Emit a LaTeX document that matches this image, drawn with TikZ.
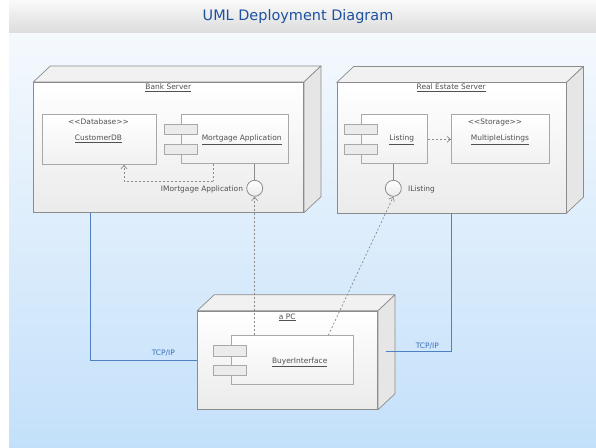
\documentclass[tikz,border=0pt]{standalone}
\usepackage{fontspec}
\setmainfont{DejaVu Sans}
\usetikzlibrary{arrows.meta,calc}
\definecolor{bgtop}{HTML}{F5F9FD}
\definecolor{bgbot}{HTML}{C3E0FA}
\definecolor{bartop}{HTML}{FAFAFA}
\definecolor{barbot}{HTML}{DCDCDC}
\definecolor{ttl}{HTML}{1E50A0}
\definecolor{edge}{HTML}{8C8C8C}
\definecolor{compedge}{HTML}{A8A8A8}
\definecolor{txt}{HTML}{505050}
\definecolor{net}{HTML}{4F80C4}
\definecolor{nettxt}{HTML}{3A6DB8}
\definecolor{depc}{HTML}{8A8A8A}
\definecolor{facetop}{HTML}{F1F1F1}
\definecolor{faceside}{HTML}{E6E6E6}
\definecolor{frontbot}{HTML}{EBEBEB}
\tikzset{
 nodebox/.style={draw=edge, line width=0.7bp, top color=white, bottom color=frontbot, inner sep=0, anchor=north west},
 face/.style={draw=edge, line width=0.7bp, fill=#1, line join=round},
 compbox/.style={draw=compedge, line width=1.1bp, top color=white, bottom color=frontbot!70, inner sep=0, anchor=north west},
 portbox/.style={draw=compedge, line width=1bp, fill=frontbot, inner sep=0, anchor=north west, minimum width=33bp, minimum height=9.7bp},
 iface/.style={circle, draw=edge, line width=0.8bp, top color=white, bottom color=frontbot, minimum size=16bp, inner sep=0},
 lbl/.style={text=txt, font=\fontsize{7.5}{9}\selectfont, inner sep=0, anchor=base},
 netlbl/.style={text=nettxt, font=\fontsize{7.5}{9}\selectfont, inner sep=0, anchor=base},
 netline/.style={draw=net, line width=0.8bp},
 depline/.style={draw=depc, line width=0.7bp, dash pattern=on 2bp off 2bp, -{Straight Barb[length=3.5bp,width=6bp]}},
 depplain/.style={draw=depc, line width=0.7bp, dash pattern=on 2bp off 2bp},
 stem/.style={draw=edge, line width=0.8bp},
}
\newcommand\cubefaces[1]{%
 \path[face=facetop] (#1.north west) -- ([shift={(17,-16)}]#1.north west) -- ([shift={(17,-16)}]#1.north east) -- (#1.north east) -- cycle;
 \path[face=faceside] (#1.north east) -- ([shift={(17,-16)}]#1.north east) -- ([shift={(17,-16)}]#1.south east) -- (#1.south east) -- cycle;}
\begin{document}
\begin{tikzpicture}[x=1bp,y=-1bp]
\useasboundingbox (0,0) rectangle (596,448);
\fill[white] (0,0) rectangle (596,448);
\shade[top color=bgtop, bottom color=bgbot] (9,33) rectangle (596,448);
\shade[top color=bartop, bottom color=barbot] (9,0) rectangle (596,33);
\node[text=ttl, font=\fontsize{14.5}{17}\selectfont, inner sep=0] (title) at (298,17) {UML Deployment Diagram};

% 3D nodes
\node[nodebox, minimum width=270bp, minimum height=130bp] (bs) at (33.3,82) {};
\cubefaces{bs}
\node[nodebox, minimum width=229bp, minimum height=130bp] (res) at (336.7,82.5) {};
\cubefaces{res}
\node[nodebox, minimum width=180bp, minimum height=98.3bp] (pc) at (197.3,310.7) {};
\cubefaces{pc}

\node[lbl] (bst) at (168.3,89.5) {\underline{Bank Server}};
\node[lbl] (rest) at (451.2,89.5) {\underline{Real Estate Server}};
\node[lbl] (pct) at (287.3,319) {\underline{a PC}};

% Bank server content
\node[compbox, minimum width=114bp, minimum height=49.4bp] (db) at (42,114.3) {};
\node[lbl] (dbs) at (98.5,124.5) {<{}<Database>{}>};
\node[lbl] (dbn) at (98.5,141) {\underline{CustomerDB}};
\node[compbox, minimum width=107bp, minimum height=49bp] (ma) at (180.7,114.3) {};
\node[portbox] (map1) at (164.3,124.3) {};
\node[portbox] (map2) at (164.3,144) {};
\node[lbl] (man) at (241.7,141) {\underline{Mortgage Application}};
\node[iface] (im) at (254.7,188.3) {};
\node[lbl] (imt) at (202,191.5) {IMortgage Application};

% Real estate content
\node[compbox, minimum width=66bp, minimum height=49bp] (li) at (360.7,114.3) {};
\node[portbox] (lip1) at (344.3,124.3) {};
\node[portbox] (lip2) at (344.3,144) {};
\node[lbl] (lin) at (401.7,141) {\underline{Listing}};
\node[compbox, minimum width=98bp, minimum height=49bp] (ml) at (451,114.3) {};
\node[lbl] (mls) at (495,124.5) {<{}<Storage>{}>};
\node[lbl] (mln) at (500,141) {\underline{MultipleListings}};
\node[iface] (il) at (393.3,188.3) {};
\node[lbl] (ilt) at (421.5,191.5) {IListing};

% PC content
\node[compbox, minimum width=122.6bp, minimum height=49bp] (bi) at (230.7,335.3) {};
\node[portbox, minimum height=10.5bp] (bip1) at (213.3,345) {};
\node[portbox, minimum height=10bp] (bip2) at (213.3,365) {};
\node[lbl] (bin) at (299.7,363) {\underline{BuyerInterface}};

% connectors
\draw[stem] (im.north |- ma.south) -- (im.north);
\draw[stem] (il.north |- li.south) -- (il.north);
\draw[depplain] ([xshift=32.6bp]ma.south west) -- ++(0,16.7) coordinate (mabend);
\draw[depline] (mabend) -| ([xshift=82bp]db.south west);
\draw[depline] (li.east) -- (ml.west);
\draw[depline] (im.south |- bi.north) -- (im.south);
\draw[depline] ([xshift=97.6bp]bi.north west) -- (il.south);

\draw[netline] ([xshift=57.4bp]bs.south west) |- (pc.west);
\coordinate (pcside) at ([xshift=7.7bp,yshift=9bp]pc.east);
\draw[netline] (pcside) -| (res.south);
\node[netlbl] (tcp1) at (163.3,355.5) {TCP/IP};
\node[netlbl] (tcp2) at (427.3,348) {TCP/IP};
\end{tikzpicture}
\end{document}
